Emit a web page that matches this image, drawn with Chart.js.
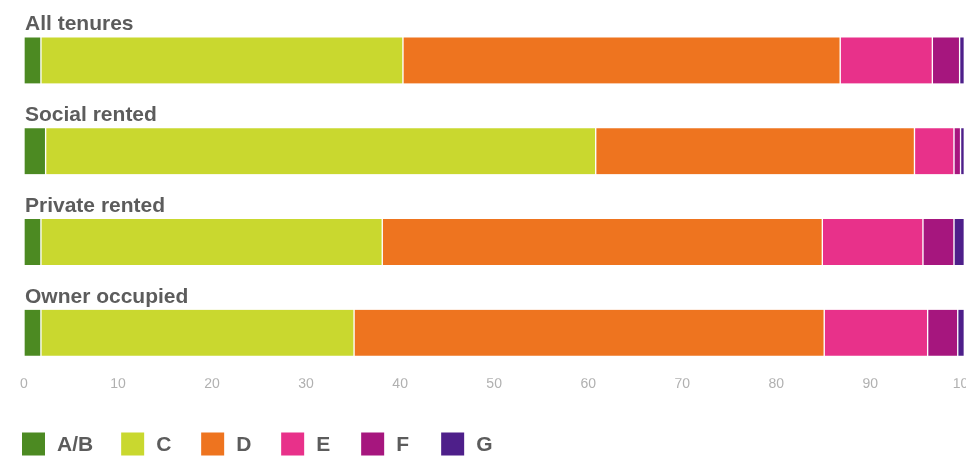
<!DOCTYPE html>
<html>
<head>
<meta charset="utf-8">
<title>Energy efficiency bands by tenure</title>
<script src="https://cdn.jsdelivr.net/npm/chart.js@4.4.1/dist/chart.umd.min.js"></script>
<style>
  html, body { margin: 0; padding: 0; background: #fff; overflow: hidden; }
  #wrap { width: 966px; height: 463px; overflow: hidden; position: relative; }
  #wrap canvas { position: absolute; left: 0; top: 0; }
</style>
</head>
<body>
<div id="wrap"><canvas id="chart" width="974" height="463"></canvas></div>
<script>
// share of dwellings (%) in each EPC band, per tenure
const tenures = ['All tenures', 'Social rented', 'Private rented', 'Owner occupied'];
const bands = ['A/B', 'C', 'D', 'E', 'F', 'G'];
const bandAB = [1.8, 2.3, 1.8, 1.8];
const bandC = [38.5, 58.5, 36.3, 33.3];
const bandD = [46.5, 33.9, 46.8, 50.0];
const bandE = [9.8, 4.2, 10.7, 11.0];
const bandF = [2.9, 0.7, 3.3, 3.2];
const bandG = [0.5, 0.4, 1.1, 0.7];
const xMin = 0;
const xMax = 100;
const xStep = 10;

const bandColours = ['#4c8a22', '#c9d82f', '#ee741f', '#e8318a', '#a6167e', '#4e1f8a'];
const bandValues = [bandAB, bandC, bandD, bandE, bandF, bandG];

const labelFont = 'bold 21px "Liberation Sans", Arial, sans-serif';
const labelColour = '#5c5c5c';

// tenure names sit above their bar, flush left
const tenureLabels = {
  id: 'tenureLabels',
  afterDatasetsDraw(chart) {
    const { ctx, chartArea } = chart;
    const meta = chart.getDatasetMeta(0);
    ctx.save();
    ctx.font = labelFont;
    ctx.fillStyle = labelColour;
    ctx.textAlign = 'left';
    ctx.textBaseline = 'alphabetic';
    meta.data.forEach((bar, i) => {
      const top = bar.y - bar.height / 2;
      ctx.fillText(tenures[i], chartArea.left + 1, top - 7);
    });
    ctx.restore();
  }
};

// square-swatch legend along the bottom
const bandLegend = {
  id: 'bandLegend',
  afterDraw(chart) {
    const { ctx } = chart;
    const box = 23;
    const cy = chart.height - 19;
    let x = 22;
    ctx.save();
    ctx.font = labelFont;
    ctx.textBaseline = 'middle';
    chart.data.datasets.forEach(ds => {
      ctx.fillStyle = ds.backgroundColor;
      ctx.fillRect(x, cy - box / 2, box, box);
      ctx.fillStyle = labelColour;
      ctx.fillText(ds.label, x + box + 12, cy + 1);
      const w = ctx.measureText(ds.label).width;
      x += Math.max(80, box + 12 + w + 28);
    });
    ctx.restore();
  }
};

new Chart(document.getElementById('chart'), {
  type: 'bar',
  data: {
    labels: tenures,
    datasets: bands.map((band, i) => ({
      label: band,
      data: bandValues[i],
      backgroundColor: bandColours[i],
      borderColor: '#ffffff',
      borderWidth: { left: 1, right: 1, top: 0, bottom: 0 },
      borderSkipped: false,
      barThickness: 46
    }))
  },
  options: {
    indexAxis: 'y',
    responsive: false,
    animation: false,
    layout: { padding: { left: 24, top: 15, right: 0, bottom: 72 } },
    plugins: {
      legend: { display: false },
      tooltip: { enabled: false }
    },
    scales: {
      x: {
        stacked: true,
        min: xMin,
        max: xMax,
        border: { display: false },
        grid: { display: false, drawTicks: false },
        ticks: {
          stepSize: xStep,
          padding: -2,
          color: '#b0b0b0',
          font: { family: '"Liberation Sans", Arial, sans-serif', size: 14 }
        }
      },
      y: {
        stacked: true,
        display: false
      }
    }
  },
  plugins: [tenureLabels, bandLegend]
});
</script>
</body>
</html>
